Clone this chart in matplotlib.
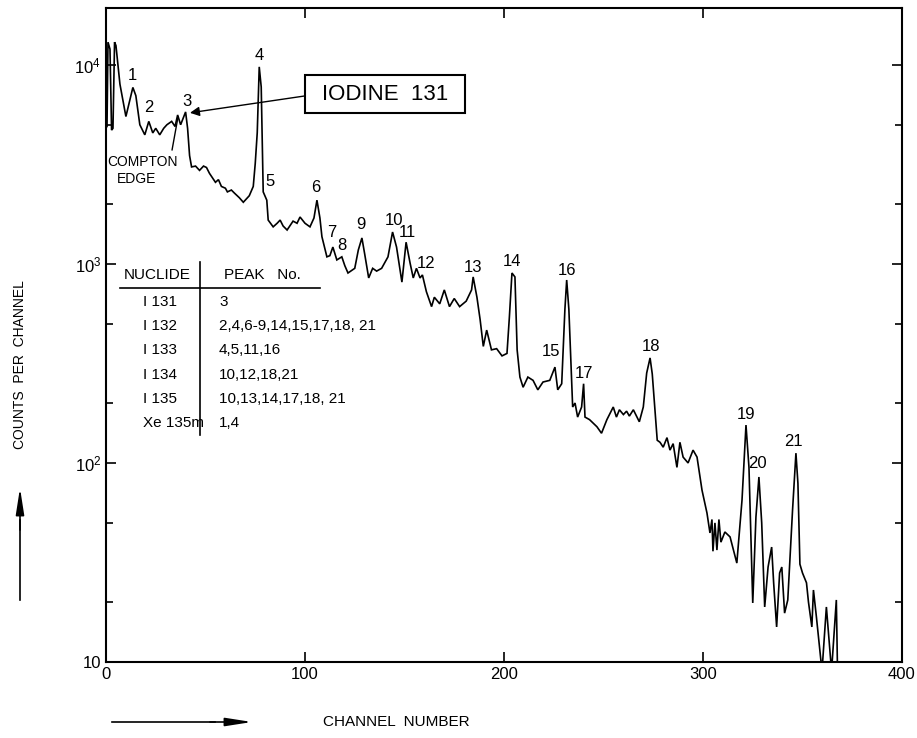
import matplotlib
matplotlib.use("Agg")
import matplotlib.pyplot as plt
from matplotlib.patches import Rectangle
from matplotlib.ticker import LogLocator, NullFormatter, FixedLocator, FixedFormatter

plt.rcParams['font.family'] = ['Liberation Sans', 'DejaVu Sans']
plt.rcParams['mathtext.default'] = 'regular'

# gamma spectrum: channel -> counts per channel
channel = [0.5, 1.0, 2.0, 2.8, 3.5, 4.3, 5.0, 7, 10, 13.5, 15, 17, 19.5, 21.5, 23.5, 25, 27,
           29, 30.6, 33, 34.7, 36, 37.5, 40, 41, 42, 43, 45, 47, 49, 50.5, 52, 55, 56.5, 58,
           60, 61, 63, 64.5, 67, 69, 72, 74, 75, 76, 77, 78, 79, 80.8, 81.5, 84, 86, 87.5,
           89, 91, 94, 96, 97.5, 100, 102.5, 104.5, 106, 107.5, 108.5, 111, 112.5, 114, 116,
           118.5, 120, 121.6, 125, 126.8, 128.6, 130, 132, 134, 136, 138.5, 141.7, 144, 146,
           148.7, 150.8, 152.8, 154.4, 156, 157.8, 159, 161, 163.6, 165, 167.7, 170, 172.6,
           175, 177.7, 181, 183.7, 184.5, 186.4, 188, 189.6, 191.3, 193.7, 196.3, 199, 201.5,
           202.7, 204, 205.5, 206.6, 208, 209.6, 212, 214.6, 217, 219.6, 223, 225.6, 227,
           229, 230.6, 231.5, 232.6, 234.5, 235.7, 237, 239, 240, 240.7, 243, 246.7, 249,
           251.7, 254.9, 256.5, 258, 260, 261.6, 263, 265, 268, 270, 271.7, 273.4, 274.5,
           277, 278.4, 280, 281.9, 283.4, 285, 286.9, 288.4, 290, 292.5, 295, 297, 299.5,
           302, 303.5, 304.5, 305, 306, 307, 308, 309, 311, 313.6, 317, 319.6, 321.6, 323.1,
           325, 326.6, 328.1, 329.5, 331, 332.7, 334.5, 335.5, 337, 338.5, 339.6, 341, 342.6,
           345, 346.7, 347.7, 348.7, 350, 352, 353, 354.7, 355.5, 357, 359.8, 362, 364.6,
           367, 367.6]
counts = [4900, 13000, 12000, 4700, 4800, 13000, 12500, 8000, 5500, 7700, 7000, 5000, 4450,
          5200, 4550, 4800, 4450, 4800, 5000, 5200, 4900, 5600, 5000, 5800, 4800, 3500, 3070,
          3100, 2950, 3100, 3050, 2850, 2570, 2650, 2450, 2400, 2300, 2350, 2270, 2150, 2040,
          2200, 2450, 3200, 4560, 9770, 7740, 2300, 2090, 1660, 1535, 1600, 1660, 1550, 1480,
          1640, 1600, 1720, 1600, 1535, 1700, 2090, 1700, 1370, 1085, 1100, 1215, 1047, 1085,
          980, 900, 950, 1175, 1350, 1120, 850, 950, 920, 950, 1085, 1446, 1215, 810, 1285,
          1010, 850, 950, 850, 880, 725, 610, 680, 630, 740, 610, 670, 610, 650, 740, 860,
          680, 525, 385, 465, 370, 375, 345, 355, 540, 900, 860, 370, 270, 240, 270, 260, 233,
          255, 260, 303, 233, 250, 590, 830, 590, 191, 200, 170, 191, 250, 170, 165, 152, 141,
          165, 191, 170, 185, 175, 182, 172, 185, 161, 191, 283, 337, 280, 130, 127, 120, 134,
          116, 125, 95, 127, 107, 100, 116, 107, 73, 56, 44.5, 52, 36, 50, 36.5, 52, 40, 45,
          42.5, 31.4, 65, 155, 95, 19.8, 53.5, 85, 50, 18.9, 30, 37.8, 25, 15, 28, 30, 17.6,
          20.5, 58, 112, 79, 31, 28, 25, 20, 15, 23, 16.8, 9, 18.9, 9, 20.5, 9]

# peak numbers and where their labels sit (channel, counts)
peak_ids = [str(i) for i in range(1, 22)]
peak_label_ch = [13.1, 21.6, 40.7, 76.9, 82.4, 105.5, 113.6, 118.6, 128.1, 144.7, 151.3,
                 160.8, 184.4, 204, 223.6, 231.7, 240.2, 273.9, 321.6, 327.6, 345.2]
peak_label_y = [8800, 6080, 6520, 11100, 2580, 2410, 1430, 1230, 1585, 1660, 1430,
                1010, 955, 1023, 361, 923, 280, 383, 176, 99, 128]

nuclides = ["I 131", "I 132", "I 133", "I 134", "I 135", "Xe 135m"]
peak_lists = ["3", "2,4,6-9,14,15,17,18, 21", "4,5,11,16", "10,12,18,21",
              "10,13,14,17,18, 21", "1,4"]

W, H = 917, 738
fig = plt.figure(figsize=(W / 100, H / 100), dpi=100)
ax = fig.add_axes([106 / W, 1 - 662 / H, (902 - 106) / W, (662 - 8) / H])

def fx(px):
  return px / W

def fy(py):
  return 1 - py / H

ax.plot(channel, counts, color='black', lw=1.2, solid_joinstyle='miter')
ax.set_yscale('log')
ax.set_xlim(0, 400)
ax.set_ylim(10, 1.93e4)

ax.xaxis.set_major_locator(FixedLocator([0, 100, 200, 300, 400]))
ax.yaxis.set_major_locator(FixedLocator([10, 100, 1000, 10000]))
ax.yaxis.set_major_formatter(FixedFormatter(['10', '$10^2$', '$10^3$', '$10^4$']))
ax.yaxis.set_minor_locator(LogLocator(base=10, subs=(2, 5)))
ax.yaxis.set_minor_formatter(NullFormatter())
ax.tick_params(which='both', direction='in', top=True, right=True, labelsize=12,
               width=1.2)
ax.tick_params(which='major', length=7)
ax.tick_params(which='minor', length=5)
for sp in ax.spines.values():
  sp.set_linewidth(1.5)

for lab, cx, cy in zip(peak_ids, peak_label_ch, peak_label_y):
  ax.text(cx, cy, lab, ha='center', va='center', fontsize=12)

# IODINE 131 box with arrow to peak 3
fig.patches.append(Rectangle((fx(305), fy(113)), 160 / W, 38 / H, transform=fig.transFigure,
                             fill=False, lw=1.5, edgecolor='black'))
fig.text(fx(385), fy(95), "IODINE  131", ha='center', va='center', fontsize=16)
ax.annotate('', xy=(42.2, 5740), xytext=(100, 6980),
            arrowprops=dict(arrowstyle='-|>', lw=1, color='black', mutation_scale=14,
                            shrinkA=0, shrinkB=0))

# Compton edge note
ax.plot([33.2, 36.2], [3740, 5480], color='black', lw=1)
fig.text(fx(143), fy(162), "COMPTON", ha='center', va='center', fontsize=10)
fig.text(fx(137), fy(179), "EDGE", ha='center', va='center', fontsize=10)

# nuclide table
fig.text(fx(157), fy(275), "NUCLIDE", ha='center', va='center', fontsize=11)
fig.text(fx(262), fy(275), "PEAK   No.", ha='center', va='center', fontsize=11)
fig.lines.append(plt.Line2D([fx(120), fx(320)], [fy(288), fy(288)],
                            transform=fig.transFigure, color='black', lw=1.2))
fig.lines.append(plt.Line2D([fx(200), fx(200)], [fy(262), fy(435)],
                            transform=fig.transFigure, color='black', lw=1.2))
for i, (nuc, pk) in enumerate(zip(nuclides, peak_lists)):
  yy = fy(302 + i * 24.2)
  fig.text(fx(143), yy, nuc, ha='left', va='center', fontsize=11)
  fig.text(fx(219), yy, pk, ha='left', va='center', fontsize=11)

# axis captions with arrows
fig.text(fx(20), fy(365), "COUNTS  PER  CHANNEL", rotation=90, ha='center', va='center',
         fontsize=10)
fig.add_artist(plt.Line2D([fx(20), fx(20)], [fy(600), fy(520)], transform=fig.transFigure,
                          color='black', lw=1.2))
ax.annotate('', xy=(fx(20), fy(488)), xytext=(fx(20), fy(530)), xycoords='figure fraction',
            textcoords='figure fraction',
            arrowprops=dict(arrowstyle='-|>,head_length=1.6,head_width=0.25', lw=1.2,
                            color='black', shrinkA=0, shrinkB=0))
fig.text(fx(396), fy(722), "CHANNEL  NUMBER", ha='center', va='center', fontsize=11)
fig.add_artist(plt.Line2D([fx(112), fx(215)], [fy(722), fy(722)], transform=fig.transFigure,
                          color='black', lw=1.2))
ax.annotate('', xy=(fx(252), fy(722)), xytext=(fx(210), fy(722)), xycoords='figure fraction',
            textcoords='figure fraction',
            arrowprops=dict(arrowstyle='-|>,head_length=1.6,head_width=0.25', lw=1.2,
                            color='black', shrinkA=0, shrinkB=0))

fig.savefig("out.png", dpi=100)
